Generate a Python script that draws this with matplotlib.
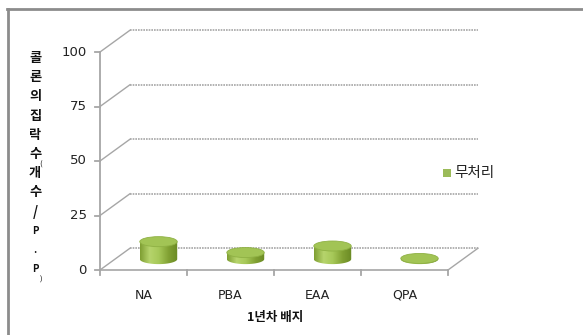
import numpy as np
import matplotlib
matplotlib.use("Agg")
import matplotlib.pyplot as plt
import matplotlib.patches as patches
from matplotlib.lines import Line2D
from matplotlib.colors import LinearSegmentedColormap

plt.rcParams['font.family'] = ['Noto Sans CJK KR', 'DejaVu Sans']

categories = ['NA', 'PBA', 'EAA', 'QPA']
values = [8, 3, 6, 0.3]
yticks = [0, 25, 50, 75, 100]
series_name = '무처리'
xlabel = '1년차 배지'
ylabel_chars = ['콜', '론', '의', '집', '락', '수', '개', '수', '/', 'P', '.', 'P']

# fake 3d depth, in data units
DX = 0.345
DY = 10.0
grid_c = '#a6a6a6'

fig = plt.figure(figsize=(5.83, 3.35), dpi=100)
W, H = 583, 335
ax = fig.add_axes([100 / W, (H - 270) / H, 348 / W, 218 / H])
ax.set_xlim(0, 4)
ax.set_ylim(0, 100)
ax.axis('off')

# back wall gridlines + the diagonal joining them to the front axis
for v in yticks:
    ax.plot([0, DX], [v, v + DY], color=grid_c, lw=1, clip_on=False)
    ax.plot([DX, 4 + DX], [v + DY, v + DY], color=grid_c, lw=1.2,
            ls=(0, (1, 0.6)), clip_on=False)

# floor edges
ax.plot([0, 4], [0, 0], color=grid_c, lw=1.2, clip_on=False)
ax.plot([4, 4 + DX], [0, DY], color=grid_c, lw=1, clip_on=False)

# front value axis
ax.plot([0, 0], [0, 100], color=grid_c, lw=1.3, clip_on=False)
for v in yticks:
    ax.plot([-0.06, 0], [v, v], color=grid_c, lw=1.3, clip_on=False)
    ax.text(-0.15, v, str(v), ha='right', va='center', fontsize=9.5,
            color='#222222', family='DejaVu Sans')

# category ticks and labels
for i in range(5):
    ax.plot([i, i], [0, -2.3], color=grid_c, lw=1.3, clip_on=False)
for i, c in enumerate(categories):
    ax.text(i + 0.5, -11.5, c, ha='center', va='center', fontsize=9,
            color='#222222', family='DejaVu Sans')

# cylinders, standing halfway back on the floor
cmap = LinearSegmentedColormap.from_list(
    'cyl', ['#7f9f33', '#b6d46c', '#a6c858', '#82a234', '#6a8a24'])
grad = np.linspace(0, 1, 64).reshape(1, -1)
cw = 0.43
eh = 4.6
for i, v in enumerate(values):
    cx = i + 0.5 + DX / 2
    base = DY / 2
    top = base + v
    t = np.linspace(0, np.pi, 40)
    lower = np.column_stack([cx + cw / 2 * np.cos(t), base - eh / 2 * np.sin(t)])
    body = patches.Polygon(
        np.vstack([[cx - cw / 2, top], [cx + cw / 2, top], lower]),
        closed=True, facecolor='none', edgecolor='none', clip_on=False)
    ax.add_patch(body)
    im = ax.imshow(grad, cmap=cmap, aspect='auto',
                   extent=[cx - cw / 2, cx + cw / 2, base - eh, top + eh],
                   zorder=3)
    im.set_clip_path(body)
    cap = patches.Ellipse((cx, top), cw, eh, facecolor='#a2c455',
                          edgecolor='#8fb144', lw=0.6, zorder=4, clip_on=False)
    ax.add_patch(cap)

ax.set_xlim(0, 4)
ax.set_ylim(0, 100)

# axis titles
fig.text(275 / W, 1 - 317 / H, xlabel, ha='center', va='center',
         fontsize=9, fontweight='bold', color='#111111')
for k, ch in enumerate(ylabel_chars):
    size = 7 if ch in ('P', '.') else 9.5
    fig.text(35 / W, 1 - (58 + k * 19.2) / H, ch, ha='center', va='center',
             fontsize=size, fontweight='bold', color='#111111')
fig.text(41 / W, 1 - 165 / H, '(', ha='center', va='center', fontsize=5.5,
         color='#111111')
fig.text(41 / W, 1 - 280 / H, ')', ha='center', va='center', fontsize=5.5,
         color='#111111')

# legend
fig.patches.append(patches.Rectangle((443 / W, 1 - 177 / H), 8 / W, 8 / H,
                                     facecolor='#9bbb59', edgecolor='none',
                                     transform=fig.transFigure))
fig.text(454 / W, 1 - 173 / H, series_name, ha='left', va='center',
         fontsize=10.5, color='#222222')

# chart frame (top and left edges)
fig.add_artist(Line2D([8 / W, 8 / W], [0, 1 - 9 / H], color='#8c8c8c', lw=2,
                      transform=fig.transFigure))
fig.add_artist(Line2D([7 / W, 1], [1 - 9 / H, 1 - 9 / H], color='#8c8c8c', lw=2,
                      transform=fig.transFigure))

fig.savefig('out.png', dpi=100)
